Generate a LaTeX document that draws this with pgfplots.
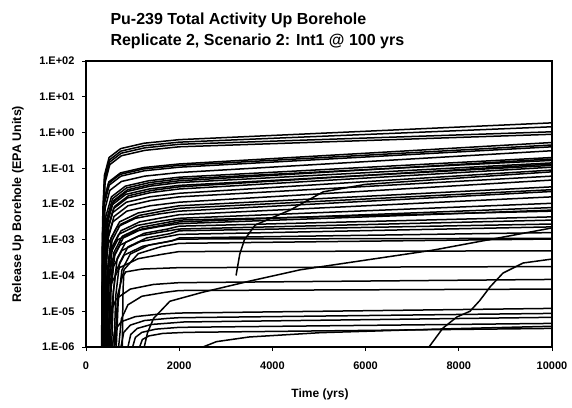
\documentclass[border=0pt]{standalone}
\usepackage{fontspec}
\setmainfont{Liberation Sans}
\usepackage{pgfplots}
\pgfplotsset{compat=1.18}
\begin{document}
\begin{tikzpicture}
\path[use as bounding box] (-86pt,-60pt) rectangle (486pt,347pt);
\begin{axis}[at={(0pt,0pt)}, anchor=south west, scale only axis,
  width=466pt, height=286pt,
  xmin=0, xmax=10000, ymin=-6, ymax=2,
  scaled x ticks=false,
  xtick={0,2000,4000,6000,8000,10000},
  xticklabels={0,2000,4000,6000,8000,10000},
  ytick={-6,-5,-4,-3,-2,-1,0,1,2},
  yticklabels={1.E-06,1.E-05,1.E-04,1.E-03,1.E-02,1.E-01,1.E+00,1.E+01,1.E+02},
  xtick pos=lower, ytick pos=left,
  tick align=outside, major tick length=4pt,
  tick style={black, line width=0.8pt},
  axis line style={line width=1.2pt},
  ticklabel style={font=\fontsize{11}{13}\selectfont\bfseries},
  xticklabel style={yshift=-7pt},
  yticklabel style={xshift=-4pt},
  every axis plot post/.append style={black, solid, line width=1.5pt, line join=round, mark=none},
]
% top group
\addplot coordinates {(345,-6)(360,-2.2)(395,-1.2)(495,-0.7)(745,-0.45)(1245,-0.3)(2000,-0.2)(10000,0.27)};
\addplot coordinates {(350,-6)(365,-2.27)(400,-1.27)(500,-0.77)(750,-0.52)(1250,-0.37)(2000,-0.27)(10000,0.16)};
\addplot coordinates {(355,-6)(370,-2.33)(405,-1.33)(505,-0.83)(755,-0.58)(1255,-0.43)(2000,-0.33)(10000,0.02)};
\addplot coordinates {(360,-6)(375,-2.4)(410,-1.4)(510,-0.9)(760,-0.65)(1260,-0.5)(2000,-0.4)(10000,-0.05)};
\addplot coordinates {(340,-6)(355,-2.88)(390,-1.88)(490,-1.38)(740,-1.13)(1240,-0.98)(2000,-0.88)(10000,-0.28)};
\addplot coordinates {(335,-6)(350,-2.92)(385,-1.92)(485,-1.42)(735,-1.17)(1235,-1.02)(2000,-0.92)(10000,-0.35)};
\addplot coordinates {(350,-6)(365,-2.97)(400,-1.97)(500,-1.47)(750,-1.22)(1250,-1.07)(2000,-0.97)(10000,-0.40)};
\addplot coordinates {(360,-6)(375,-3.12)(410,-2.12)(510,-1.62)(760,-1.37)(1260,-1.22)(2000,-1.12)(10000,-0.51)};
% B group
\addplot coordinates {(345,-6)(365,-3.45)(425,-2.35)(545,-1.8)(845,-1.5)(1345,-1.35)(2000,-1.25)(10000,-0.70)};
\addplot coordinates {(370,-6)(390,-3.5)(450,-2.4)(570,-1.85)(870,-1.55)(1370,-1.4)(2000,-1.3)(10000,-0.78)};
\addplot coordinates {(395,-6)(415,-3.55)(475,-2.45)(595,-1.9)(895,-1.6)(1395,-1.45)(2000,-1.35)(10000,-0.74)};
\addplot coordinates {(380,-6)(400,-3.6)(460,-2.5)(580,-1.95)(880,-1.65)(1380,-1.5)(2000,-1.4)(10000,-0.85)};
\addplot coordinates {(355,-6)(375,-3.68)(435,-2.58)(555,-2.03)(855,-1.73)(1355,-1.58)(2000,-1.48)(10000,-0.92)};
\addplot coordinates {(410,-6)(430,-3.72)(490,-2.62)(610,-2.07)(910,-1.77)(1410,-1.62)(2000,-1.52)(10000,-0.88)};
\addplot coordinates {(390,-6)(410,-3.78)(470,-2.68)(590,-2.13)(890,-1.83)(1390,-1.68)(2000,-1.58)(10000,-0.97)};
\addplot coordinates {(365,-6)(385,-3.9)(445,-2.8)(565,-2.25)(865,-1.95)(1365,-1.8)(2000,-1.7)(10000,-1.05)};
\addplot coordinates {(400,-6)(420,-4.0)(480,-2.9)(600,-2.35)(900,-2.05)(1400,-1.9)(2000,-1.8)(10000,-1.22)};
\addplot coordinates {(375,-6)(395,-4.15)(455,-3.05)(575,-2.5)(875,-2.2)(1375,-2.05)(2000,-1.95)(10000,-1.33)};
% C group
\addplot coordinates {(420,-6)(460,-3.85)(540,-2.95)(720,-2.5)(1120,-2.25)(1620,-2.13)(2000,-2.05)(10000,-1.52)};
\addplot coordinates {(440,-6)(480,-3.92)(560,-3.02)(740,-2.57)(1140,-2.32)(1640,-2.2)(2000,-2.12)(10000,-1.60)};
\addplot coordinates {(360,-6)(400,-4.0)(480,-3.1)(660,-2.65)(1060,-2.4)(1560,-2.28)(2000,-2.2)(10000,-1.65)};
\addplot coordinates {(450,-6)(490,-4.1)(570,-3.2)(750,-2.75)(1150,-2.5)(1650,-2.38)(2000,-2.3)(10000,-1.80)};
\addplot coordinates {(400,-6)(440,-4.2)(520,-3.3)(700,-2.85)(1100,-2.6)(1600,-2.48)(2000,-2.4)(10000,-1.98)};
\addplot coordinates {(480,-6)(520,-4.25)(600,-3.35)(780,-2.9)(1180,-2.65)(1680,-2.53)(2000,-2.45)(10000,-2.20)};
\addplot coordinates {(500,-6)(540,-4.3)(620,-3.4)(800,-2.95)(1200,-2.7)(1700,-2.58)(2000,-2.5)(10000,-2.10)};
\addplot coordinates {(380,-6)(420,-4.35)(500,-3.45)(680,-3.0)(1080,-2.75)(1580,-2.63)(2000,-2.55)(10000,-2.17)};
\addplot coordinates {(550,-6)(590,-4.42)(670,-3.52)(850,-3.07)(1250,-2.82)(1750,-2.7)(2000,-2.62)(10000,-2.36)};
\addplot coordinates {(430,-6)(470,-4.5)(550,-3.6)(730,-3.15)(1130,-2.9)(1630,-2.78)(2000,-2.7)(10000,-2.45)};
\addplot coordinates {(600,-6)(640,-4.55)(720,-3.65)(900,-3.2)(1300,-2.95)(1800,-2.83)(2000,-2.75)(10000,-2.56)};
\addplot coordinates {(470,-6)(510,-4.65)(590,-3.75)(770,-3.3)(1170,-3.05)(1670,-2.93)(2000,-2.85)(10000,-2.64)};
\addplot coordinates {(650,-6)(690,-4.75)(770,-3.85)(950,-3.4)(1350,-3.15)(1850,-3.03)(2000,-2.95)(10000,-2.80)};
\addplot coordinates {(520,-6)(560,-4.78)(640,-3.88)(820,-3.43)(1220,-3.18)(1720,-3.06)(2000,-2.98)(10000,-2.96)};
\addplot coordinates {(620,-6)(680,-4.55)(820,-3.83)(1120,-3.39)(1620,-3.19)(2000,-3.1)(10000,-2.98)};
\addplot coordinates {(420,-6)(460,-5.13)(540,-4.23)(720,-3.78)(1120,-3.53)(1620,-3.41)(2000,-3.33)(10000,-3.31)};
% lower group
\addplot coordinates {(780,-6)(785,-5.3)(795,-4.4)(810,-4.0)(850,-3.9)(1200,-3.82)(2000,-3.78)(10000,-3.75)};
\addplot coordinates {(450,-6)(510,-5.1)(650,-4.65)(950,-4.38)(1450,-4.25)(2000,-4.2)(10000,-4.11)};
\addplot coordinates {(700,-6)(760,-5.21)(900,-4.82)(1200,-4.58)(1700,-4.47)(2000,-4.42)(10000,-4.38)};
\addplot coordinates {(560,-6)(620,-5.53)(760,-5.29)(1060,-5.15)(1560,-5.08)(2000,-5.05)(10000,-4.92)};
\addplot coordinates {(750,-6)(810,-5.59)(950,-5.39)(1250,-5.26)(1750,-5.2)(2000,-5.18)(10000,-5.06)};
\addplot coordinates {(900,-6)(960,-5.65)(1100,-5.48)(1400,-5.37)(1900,-5.32)(2100,-5.30)(10000,-5.17)};
\addplot coordinates {(1000,-6)(1060,-5.73)(1200,-5.59)(1500,-5.5)(2000,-5.45)(10000,-5.34)};
\addplot coordinates {(1150,-6)(1210,-5.79)(1350,-5.69)(1650,-5.62)(2150,-5.59)(10000,-5.48)};
% special curves
\addplot coordinates {(3220,-4.0)(3300,-3.4)(3400,-3.0)(3630,-2.59)(4000,-2.38)(4380,-2.17)(5090,-1.66)(6000,-1.45)(10000,-1.1)};
\addplot coordinates {(1250,-6)(1320,-5.6)(1450,-5.2)(1800,-4.72)(2500,-4.47)(3500,-4.16)(4600,-3.84)(7450,-3.29)(10000,-2.67)};
\addplot coordinates {(2510,-6)(2800,-5.85)(3500,-5.72)(5020,-5.6)(7500,-5.5)(10000,-5.42)};
\addplot coordinates {(7360,-6)(7660,-5.47)(7960,-5.16)(8240,-5.0)(8450,-4.7)(8670,-4.32)(8950,-3.93)(9380,-3.65)(10000,-3.54)};
\end{axis}
\node[anchor=base west, font=\fontsize{16}{19}\selectfont\bfseries] at (21pt,322pt) {Pu-239 Total Activity Up Borehole};
\node[anchor=base west, font=\fontsize{16}{19}\selectfont\bfseries] at (21pt,301pt) {Replicate 2, Scenario 2: Int1 @ 100 yrs};
\node[rotate=90, font=\fontsize{12.5}{15}\selectfont\bfseries] at (-68pt,143pt) {Release Up Borehole (EPA Units)};
\node[font=\fontsize{12}{14}\selectfont\bfseries] at (234pt,-47pt) {Time (yrs)};
\end{tikzpicture}
\end{document}
